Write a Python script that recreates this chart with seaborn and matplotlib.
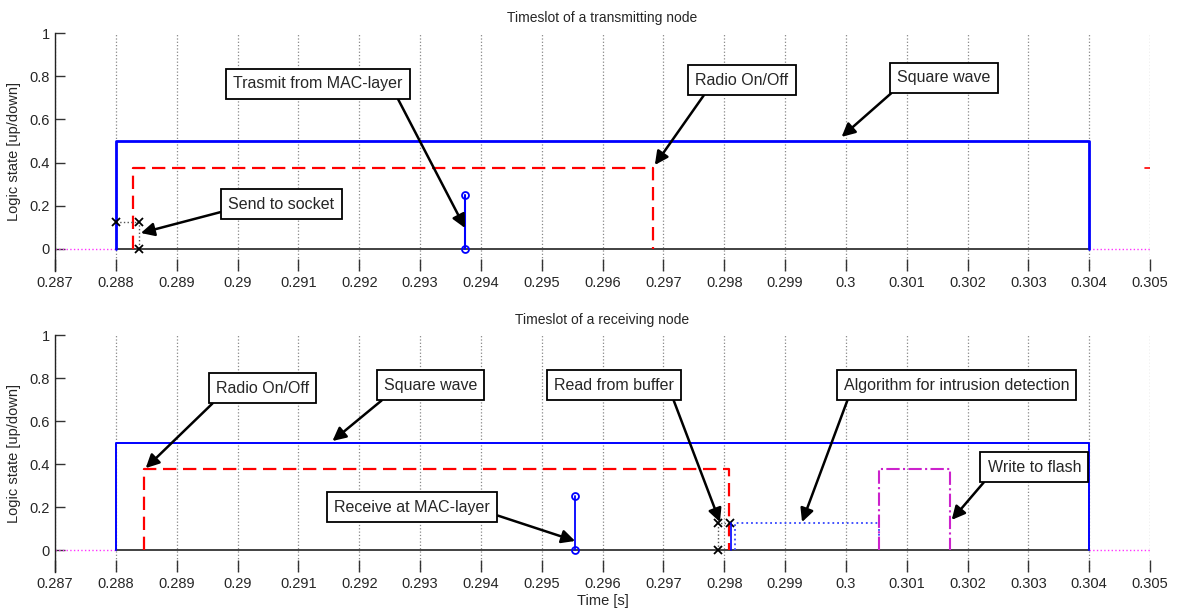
import matplotlib
matplotlib.use("Agg")
import matplotlib.pyplot as plt
import seaborn as sns

sns.set_theme(style="white")
plt.rcParams['font.family'] = ['Liberation Sans', 'DejaVu Sans']

# ---------------- data ----------------
x_ticks = [0.287, 0.288, 0.289, 0.290, 0.291, 0.292, 0.293, 0.294, 0.295, 0.296,
           0.297, 0.298, 0.299, 0.300, 0.301, 0.302, 0.303, 0.304, 0.305]
x_tick_labels = ['0.287', '0.288', '0.289', '0.29', '0.291', '0.292', '0.293', '0.294',
                 '0.295', '0.296', '0.297', '0.298', '0.299', '0.3', '0.301', '0.302',
                 '0.303', '0.304', '0.305']
y_ticks = [0, 0.2, 0.4, 0.6, 0.8, 1]
y_tick_labels = ['0', '0.2', '0.4', '0.6', '0.8', '1']

base_t = [0.288, 0.304]
base_v = [0, 0]
idle_left_t = [0.287, 0.288]
idle_right_t = [0.304, 0.305]
idle_v = [0, 0]

# transmitting node
tx_square_t = [0.288, 0.288, 0.304, 0.304]
tx_square_v = [0, 0.5, 0.5, 0]
tx_radio_t = [0.28828, 0.28828, 0.29683, 0.29683]
tx_radio_v = [0, 0.375, 0.375, 0]
tx_radio_next_t = [0.30492, 0.305]
tx_radio_next_v = [0.375, 0.375]
tx_socket_t = [0.288, 0.28838, 0.28838]
tx_socket_v = [0.125, 0.125, 0]
tx_mac_t = [0.29374, 0.29374]
tx_mac_v = [0, 0.25]

# receiving node
rx_square_t = [0.288, 0.288, 0.304, 0.304]
rx_square_v = [0, 0.5, 0.5, 0]
rx_radio_t = [0.28847, 0.28847, 0.29808, 0.29808]
rx_radio_v = [0, 0.375, 0.375, 0]
rx_mac_t = [0.29555, 0.29555]
rx_mac_v = [0, 0.25]
rx_buffer_t = [0.2979, 0.2979, 0.29809]
rx_buffer_v = [0, 0.125, 0.125]
rx_read_t = [0.29811, 0.29811]
rx_read_v = [0.125, 0]
rx_algo_t = [0.29817, 0.29817, 0.30055, 0.30055]
rx_algo_v = [0, 0.125, 0.125, 0]
rx_flash_t = [0.30055, 0.30055, 0.30171, 0.30171]
rx_flash_v = [0, 0.375, 0.375, 0]

# annotations: (text, arrow head (x, y), box centre (x, y), arrow tail relpos)
tx_notes = [
    ("Trasmit from MAC-layer", (0.29374, 0.097), (0.29132, 0.764), (0.95, 0.0)),
    ("Radio On/Off", (0.29686, 0.389), (0.29829, 0.782), (0.15, 0.0)),
    ("Square wave", (0.29993, 0.519), (0.30161, 0.792), (0.05, 0.1)),
    ("Send to socket", (0.28841, 0.074), (0.29072, 0.208), (0.0, 0.1)),
]
rx_notes = [
    ("Radio On/Off", (0.28849, 0.381), (0.29041, 0.753), (0.05, 0.0)),
    ("Square wave", (0.29156, 0.507), (0.29317, 0.767), (0.08, 0.0)),
    ("Read from buffer", (0.29793, 0.130), (0.29619, 0.767), (0.97, 0.05)),
    ("Algorithm for intrusion detection", (0.29928, 0.130), (0.30182, 0.767), (0.03, 0.05)),
    ("Receive at MAC-layer", (0.29555, 0.042), (0.29287, 0.200), (1.0, 0.1)),
    ("Write to flash", (0.30174, 0.140), (0.30310, 0.386), (0.03, 0.0)),
]

BLUE = '#0000ff'
RED = '#ff0000'
MAG = '#cc22cc'
PINK = '#ff33ff'


def line(ax, t, v, **kw):
    sns.lineplot(x=t, y=v, sort=False, estimator=None, ax=ax, legend=False, **kw)


def style_axes(ax, title):
    ax.set_xlim(0.287, 0.305)
    ax.set_ylim(-0.1, 1)
    ax.set_xticks(x_ticks)
    ax.set_xticklabels(x_tick_labels)
    ax.set_yticks(y_ticks)
    ax.set_yticklabels(y_tick_labels)
    for s in ['top', 'right', 'bottom']:
        ax.spines[s].set_visible(False)
    ax.spines['left'].set_color('#222222')
    ax.spines['left'].set_linewidth(1.0)
    ax.tick_params(axis='x', direction='in', length=8.5, width=1.0, color='#333333',
                   labelsize=10.5, pad=4, bottom=True)
    ax.tick_params(axis='y', direction='in', length=7, width=1.0, color='#333333',
                   labelsize=10.5, pad=4, left=True)
    ax.xaxis.grid(True, linestyle=':', color='#888888', linewidth=0.9)
    ax.yaxis.grid(False)
    ax.set_ylabel('Logic state [up/down]', fontsize=10.5, labelpad=6)
    ax.set_title(title, fontsize=10, pad=8)
    ax.set_xlabel('')


def annotate(ax, notes):
    for text, head, box, rel in notes:
        ax.annotate(text, xy=head, xytext=box, ha='center', va='center', fontsize=11.5,
                    bbox=dict(boxstyle='square,pad=0.45', fc='white', ec='black', lw=1.3),
                    arrowprops=dict(arrowstyle='-|>', color='black', lw=1.8,
                                    mutation_scale=20, shrinkA=0, shrinkB=0,
                                    relpos=rel), zorder=10)


fig = plt.figure(figsize=(11.79, 6.10), dpi=100)
ax1 = fig.add_axes([0.0467, 0.5564, 0.9287, 0.3895])
ax2 = fig.add_axes([0.0467, 0.0631, 0.9287, 0.3877])

# ---- top: transmitting node ----
line(ax1, idle_left_t, idle_v, color=PINK, lw=1.0, linestyle=':')
line(ax1, idle_right_t, idle_v, color=PINK, lw=1.0, linestyle=':')
line(ax1, base_t, base_v, color='#333333', lw=1.3)
line(ax1, tx_square_t, tx_square_v, color=BLUE, lw=2.0)
line(ax1, tx_radio_t, tx_radio_v, color=RED, lw=1.6, linestyle=(0, (6, 3)))
line(ax1, tx_radio_next_t, tx_radio_next_v, color=RED, lw=1.2)
line(ax1, tx_socket_t, tx_socket_v, color='#555555', lw=1.0, linestyle=':',
     marker='x', markersize=6, markeredgecolor='black', markeredgewidth=1.3)
line(ax1, tx_mac_t, tx_mac_v, color=BLUE, lw=1.5, marker='o', markersize=5,
     markerfacecolor='none', markeredgecolor=BLUE, markeredgewidth=1.3)
style_axes(ax1, 'Timeslot of a transmitting node')
annotate(ax1, tx_notes)

# ---- bottom: receiving node ----
line(ax2, idle_left_t, idle_v, color=PINK, lw=1.0, linestyle=':')
line(ax2, idle_right_t, idle_v, color=PINK, lw=1.0, linestyle=':')
line(ax2, base_t, base_v, color='#333333', lw=1.3)
line(ax2, rx_square_t, rx_square_v, color=BLUE, lw=1.4)
line(ax2, rx_radio_t, rx_radio_v, color=RED, lw=1.6, linestyle=(0, (6, 3)))
line(ax2, rx_mac_t, rx_mac_v, color=BLUE, lw=1.3, marker='o', markersize=5,
     markerfacecolor='none', markeredgecolor=BLUE, markeredgewidth=1.3)
line(ax2, rx_buffer_t, rx_buffer_v, color='#555555', lw=1.0, linestyle=':',
     marker='x', markersize=6, markeredgecolor='black', markeredgewidth=1.3)
line(ax2, rx_read_t, rx_read_v, color=BLUE, lw=1.2)
line(ax2, rx_algo_t, rx_algo_v, color='#3344ff', lw=1.3, linestyle=':')
line(ax2, rx_flash_t, rx_flash_v, color=MAG, lw=1.5, linestyle='-.')
style_axes(ax2, 'Timeslot of a receiving node')
ax2.set_xlabel('Time [s]', fontsize=10.5, labelpad=2)
annotate(ax2, rx_notes)

fig.savefig('out.png', dpi=100)
